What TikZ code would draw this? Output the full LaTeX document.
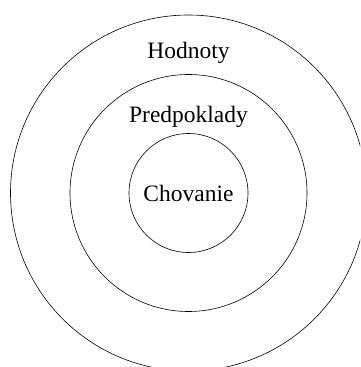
\documentclass[tikz,border=0pt]{standalone}
\usepackage{fontspec}
\setmainfont{Liberation Serif}
\usetikzlibrary{positioning}

\tikzset{
  ring/.style={draw, circle, line width=0.6pt, inner sep=0pt},
  ringlabel/.style={font=\fontsize{23.5}{27}\selectfont, inner sep=0pt}
}

\begin{document}
\begin{tikzpicture}[x=1pt, y=-1pt]
\useasboundingbox (0,0) rectangle (360,367);
\clip (0,0) rectangle (360,367);
% Rings, all centred on the same point
\coordinate (mid) at (188.5,193);
\node[ring, minimum size=356pt] (outer) at (mid) {};
\node[ring, minimum size=237pt] (middle) at (mid) {};
\node[ring, minimum size=119pt] (inner) at (mid) {};
% Labels
\node[ringlabel] (hodnoty) at (188.5,53) {Hodnoty};
\node[ringlabel] (predpoklady) at (188.5,117) {Predpoklady};
\node[ringlabel] (chovanie) at (188.5,193) {Chovanie};
\end{tikzpicture}
\end{document}
